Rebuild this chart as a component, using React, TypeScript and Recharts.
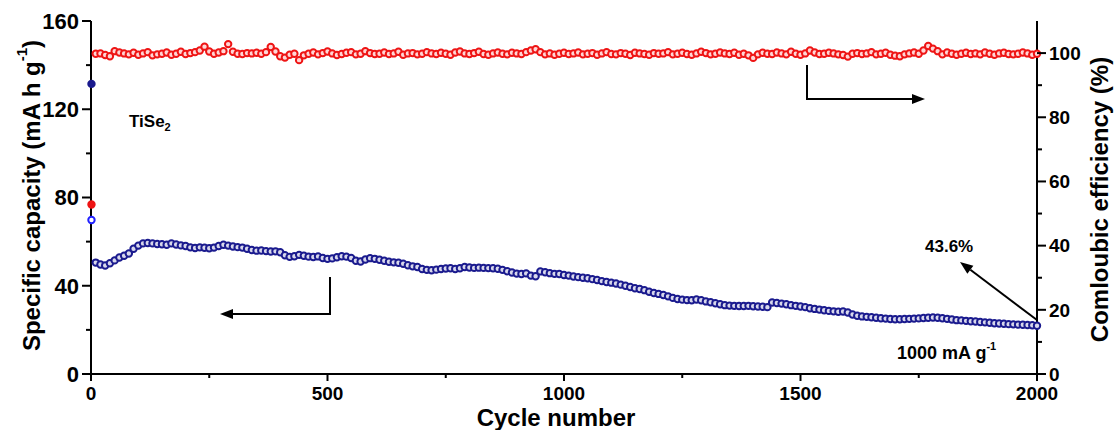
import { ComposedChart, Line, XAxis, YAxis } from "recharts";

// sampled every 10 cycles, first point is cycle 1
const cycles = [1, ...Array.from({ length: 200 }, (_, i) => (i + 1) * 10)];

// specific capacity (mA h g-1), discharge
const capacity = [
  131.5,
  50.5, 49.6, 49.2, 50.2, 51.5, 52.8, 53.6, 54.6, 56.8, 58.2,
  59.2, 59.4, 59.2, 58.9, 58.8, 58.6, 59.2, 58.7, 58.3, 58.0,
  57.4, 57.1, 57.4, 57.2, 57.0, 57.3, 58.0, 58.6, 58.2, 57.8,
  57.5, 57.3, 56.8, 56.2, 55.9, 56.0, 55.7, 55.5, 55.6, 55.2,
  53.8, 53.1, 53.4, 54.0, 53.6, 53.2, 53.0, 53.3, 52.6, 52.2,
  52.4, 52.9, 53.4, 53.2, 52.6, 51.3, 51.0, 51.9, 52.5, 52.2,
  51.8, 51.3, 50.9, 50.6, 50.4, 50.0, 49.3, 48.8, 48.5, 47.6,
  47.2, 47.0, 47.3, 47.6, 47.8, 47.9, 47.6, 47.9, 48.5, 48.3,
  48.1, 48.2, 48.1, 48.0, 47.9, 47.7, 47.2, 46.6, 46.0, 45.5,
  45.3, 45.6, 44.6, 44.3, 46.5, 46.1, 45.7, 45.4, 45.3, 44.9,
  44.6, 44.2, 43.9, 43.6, 43.4, 43.0, 42.6, 42.1, 41.7, 41.4,
  41.0, 40.5, 40.0, 39.4, 38.9, 38.5, 38.0, 37.3, 36.7, 36.3,
  35.8, 35.2, 34.5, 34.0, 33.7, 33.5, 33.4, 33.8, 33.4, 32.9,
  32.5, 32.1, 31.6, 31.2, 31.0, 30.9, 30.8, 30.8, 30.9, 30.7,
  30.6, 30.5, 30.3, 32.4, 32.2, 31.9, 31.6, 31.2, 30.9, 30.6,
  30.3, 29.8, 29.5, 29.2, 28.9, 28.6, 28.4, 28.2, 28.3, 27.9,
  27.0, 26.4, 26.1, 25.9, 25.7, 25.5, 25.3, 25.1, 24.9, 24.8,
  24.8, 24.9, 25.0, 25.1, 25.2, 25.4, 25.5, 25.6, 25.5, 25.3,
  25.0, 24.7, 24.4, 24.3, 24.1, 23.9, 23.8, 23.6, 23.4, 23.2,
  23.0, 22.9, 22.8, 22.6, 22.5, 22.4, 22.3, 22.2, 22.1, 21.9,
];

// first-cycle charge capacity (hollow point)
const chargeFirst = [69.8];

// coulombic efficiency (%)
const efficiency = [
  52.8,
  99.8, 99.9, 99.4, 99.0, 100.6, 100.2, 99.9, 99.6, 100.1, 99.5,
  99.9, 100.3, 99.3, 99.6, 99.8, 100.2, 99.5, 99.8, 100.4, 99.7,
  100.0, 100.3, 100.8, 102.0, 100.5, 99.8, 100.2, 100.6, 102.8, 100.4,
  99.8, 99.7, 100.0, 99.9, 100.1, 99.8, 100.3, 101.9, 100.5, 99.0,
  98.6, 99.5, 99.8, 97.8, 99.3, 99.8, 100.2, 99.6, 100.0, 100.5,
  99.9, 99.4, 99.7, 100.1, 100.3, 99.6, 99.8, 100.6, 100.0, 99.7,
  99.8, 100.2, 99.7, 99.9, 100.4, 99.5, 99.9, 100.0, 99.6, 99.8,
  100.3, 99.9, 99.7, 100.1, 99.8, 99.5, 100.2, 100.5, 99.9, 99.7,
  100.0, 100.4, 99.7, 99.5, 99.9, 100.2, 99.8, 99.6, 100.1, 99.9,
  99.7, 100.3, 100.8, 101.2, 100.3, 99.6, 99.9, 99.5, 99.8, 100.1,
  99.7, 99.9, 100.2, 99.6, 99.8, 100.0, 99.5, 99.9, 100.3, 99.7,
  99.6, 100.0, 99.8, 99.4, 100.1, 99.9, 99.7, 99.5, 100.0, 99.8,
  99.9, 100.3, 99.6, 99.8, 100.1, 99.7, 99.5, 99.9, 100.4, 100.0,
  99.6, 99.8, 100.2, 99.9, 99.7, 100.1, 99.5, 99.8, 99.3, 98.5,
  99.6, 100.1, 99.8, 99.7, 100.2, 99.9, 99.6, 100.4, 99.8, 99.5,
  99.9, 100.8, 100.2, 99.7, 99.8, 100.1, 99.9, 99.6, 99.4, 98.9,
  99.8, 100.0, 99.7, 99.9, 100.3, 99.6, 99.8, 100.1, 99.5, 99.2,
  99.0, 99.6, 99.9, 100.2, 99.8, 100.8, 102.2, 101.4, 100.6, 99.6,
  100.2, 99.8, 99.5, 99.8, 100.1, 99.7, 99.9, 99.6, 100.2, 99.8,
  99.5, 99.9, 100.1, 99.7, 99.6, 99.8, 100.2, 99.9, 99.5, 99.8,
];

const xTicks = [0, 250, 500, 750, 1000, 1250, 1500, 1750, 2000];
const leftTicks = [0, 20, 40, 60, 80, 100, 120, 140, 160];
const rightTicks = [0, 10, 20, 30, 40, 50, 60, 70, 80, 90, 100];

const data = cycles.map((c, i) => ({
  cycle: c,
  capacity: capacity[i],
  charge: i < chargeFirst.length ? chargeFirst[i] : null,
  efficiency: efficiency[i],
}));

const FONT = "'Liberation Sans', Arial, Helvetica, sans-serif";
const NAVY = "#1a1a8e";
const RED = "#ee1414";

const BottomTick = ({ x, y, payload }: any) => {
  const major = payload.value % 500 === 0;
  return (
    <g>
      <line x1={x} y1={y} x2={x} y2={y + (major ? 7 : 4)} stroke="#000" strokeWidth={2} />
      {major && (
        <text x={x} y={y + 26} textAnchor="middle" fontFamily={FONT} fontWeight="bold" fontSize={19} fill="#000">
          {payload.value}
        </text>
      )}
    </g>
  );
};

const LeftTick = ({ x, y, payload }: any) => {
  const major = payload.value % 40 === 0;
  return (
    <g>
      <line x1={x} y1={y} x2={x - (major ? 9 : 5)} y2={y} stroke="#000" strokeWidth={2} />
      {major && (
        <text x={x - 12} y={y} dy="0.36em" textAnchor="end" fontFamily={FONT} fontWeight="bold" fontSize={22} fill="#000">
          {payload.value}
        </text>
      )}
    </g>
  );
};

const RightTick = ({ x, y, payload }: any) => {
  const major = payload.value % 20 === 0;
  return (
    <g>
      <line x1={x} y1={y} x2={x + (major ? 9 : 5)} y2={y} stroke="#000" strokeWidth={2} />
      {major && (
        <text x={x + 12} y={y} dy="0.36em" textAnchor="start" fontFamily={FONT} fontWeight="bold" fontSize={19} fill="#000">
          {payload.value}
        </text>
      )}
    </g>
  );
};

const dotShape = (stroke: string, fill: string, firstFill: string) => (p: any) => {
  if (p.cx == null || p.cy == null || p.value == null) return <g key={`d${p.index}`} />;
  const first = p.index === 0;
  return (
    <circle
      key={`d${p.index}`}
      cx={p.cx}
      cy={p.cy}
      r={3.2}
      stroke={stroke}
      strokeWidth={2}
      fill={first ? firstFill : fill}
    />
  );
};

const Arrow = ({ x1, y1, x2, y2 }: { x1: number; y1: number; x2: number; y2: number }) => {
  const a = Math.atan2(y2 - y1, x2 - x1);
  const len = 13;
  const w = 5;
  const bx = x2 - len * Math.cos(a);
  const by = y2 - len * Math.sin(a);
  const pts = [
    [x2, y2],
    [bx + w * Math.sin(a), by - w * Math.cos(a)],
    [bx - w * Math.sin(a), by + w * Math.cos(a)],
  ]
    .map((p) => p.join(","))
    .join(" ");
  return (
    <g>
      <line x1={x1} y1={y1} x2={bx} y2={by} stroke="#000" strokeWidth={2} />
      <polygon points={pts} fill="#000" />
    </g>
  );
};

export default function App() {
  return (
    <div style={{ position: "absolute", left: 0, top: 0, width: 1115, height: 430, background: "#fff" }}>
      <ComposedChart width={1115} height={430} data={data} margin={{ top: 21, right: 0, bottom: 0, left: 0 }}>
        <XAxis
          dataKey="cycle"
          type="number"
          domain={[0, 2000]}
          ticks={xTicks}
          interval={0}
          tickSize={0}
          tickMargin={0}
          tickLine={false}
          tick={<BottomTick />}
          height={56}
          axisLine={{ stroke: "#000", strokeWidth: 2 }}
          label={{
            content: ({ viewBox }: any) => (
              <text
                x={viewBox.x + viewBox.width / 2 - 8}
                y={viewBox.y + 52}
                textAnchor="middle"
                fontFamily={FONT}
                fontWeight="bold"
                fontSize={24}
                fill="#000"
              >
                Cycle number
              </text>
            ),
          }}
        />
        <XAxis
          xAxisId="top"
          orientation="top"
          type="number"
          domain={[0, 2000]}
          height={0}
          tick={false}
          tickLine={false}
          axisLine={{ stroke: "#000", strokeWidth: 2 }}
        />
        <YAxis
          yAxisId="left"
          domain={[0, 160]}
          ticks={leftTicks}
          interval={0}
          width={91}
          tickSize={0}
          tickMargin={0}
          tickLine={false}
          tick={<LeftTick />}
          axisLine={{ stroke: "#000", strokeWidth: 2 }}
          label={{
            content: ({ viewBox }: any) => (
              <text
                x={0}
                y={0}
                transform={`translate(${viewBox.x + 31}, ${viewBox.y + viewBox.height / 2 - 2}) rotate(-90)`}
                textAnchor="middle"
                dominantBaseline="central"
                fontFamily={FONT}
                fontWeight="bold"
                fontSize={24}
                fill="#000"
              >
                Specific capacity (mA h g
                <tspan fontSize={15} dy={-10}>-1</tspan>
                <tspan dy={10}>)</tspan>
              </text>
            ),
          }}
        />
        <YAxis
          yAxisId="right"
          orientation="right"
          domain={[0, 110]}
          ticks={rightTicks}
          interval={0}
          width={78}
          tickSize={0}
          tickMargin={0}
          tickLine={false}
          tick={<RightTick />}
          axisLine={{ stroke: "#000", strokeWidth: 2 }}
          label={{
            content: ({ viewBox }: any) => (
              <text
                x={0}
                y={0}
                transform={`translate(${viewBox.x + 62}, ${viewBox.y + viewBox.height / 2 + 2}) rotate(-90)`}
                textAnchor="middle"
                dominantBaseline="central"
                fontFamily={FONT}
                fontWeight="bold"
                fontSize={24}
                fill="#000"
              >
                Comloubic efficiency (%)
              </text>
            ),
          }}
        />
        <Line
          yAxisId="right"
          dataKey="efficiency"
          stroke="none"
          dot={dotShape(RED, "#ffd6d6", RED)}
          activeDot={false}
          isAnimationActive={false}
          connectNulls={false}
        />
        <Line
          yAxisId="left"
          dataKey="charge"
          stroke="none"
          dot={dotShape("#2020ff", "#fff", "#fff")}
          activeDot={false}
          isAnimationActive={false}
        />
        <Line
          yAxisId="left"
          dataKey="capacity"
          stroke="none"
          dot={dotShape(NAVY, "#d8d8ec", NAVY)}
          activeDot={false}
          isAnimationActive={false}
        />
      </ComposedChart>
      <svg width={1115} height={430} style={{ position: "absolute", left: 0, top: 0, pointerEvents: "none" }}>
        <text x={129} y={127} fontFamily={FONT} fontWeight="bold" fontSize={17} fill="#000">
          TiSe<tspan fontSize={11} dy={4}>2</tspan>
        </text>
        <text x={925} y={252} fontFamily={FONT} fontWeight="bold" fontSize={17} fill="#000">
          43.6%
        </text>
        <text x={897} y={359} fontFamily={FONT} fontWeight="bold" fontSize={18} fill="#000">
          1000 mA g<tspan fontSize={11} dy={-9}>-1</tspan>
        </text>
        <line x1={330} y1={277} x2={330} y2={314} stroke="#000" strokeWidth={2} />
        <Arrow x1={331} y1={314} x2={220} y2={314} />
        <line x1={807} y1={65} x2={807} y2={99} stroke="#000" strokeWidth={2} />
        <Arrow x1={806} y1={99} x2={925} y2={99} />
        <Arrow x1={1037} y1={320} x2={960} y2={262} />
      </svg>
    </div>
  );
}
